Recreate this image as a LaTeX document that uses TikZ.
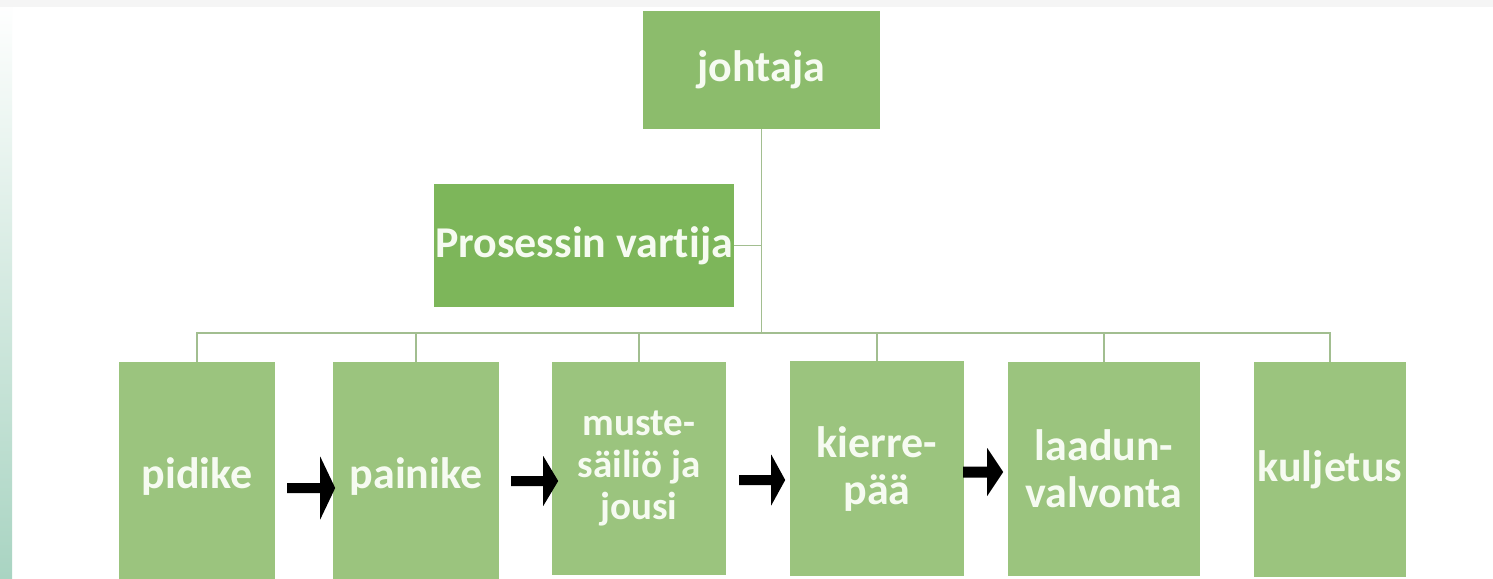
\documentclass[tikz,border=0pt]{standalone}
\usepackage{fontspec}
\setmainfont{Carlito}[Ligatures={NoCommon}]
\usetikzlibrary{calc}
\definecolor{bossgreen}{HTML}{8CBC6C}
\definecolor{asstgreen}{HTML}{7DB65A}
\definecolor{leafgreen}{HTML}{9BC47E}
\definecolor{treeline}{HTML}{A2BE90}
\definecolor{labelwhite}{HTML}{F6FBF1}
\definecolor{edgeteal}{HTML}{A9D4C2}
\tikzset{
  box/.style={rectangle, inner sep=0pt, align=center, text=labelwhite,
    font=\bfseries\fontsize{44}{47}\selectfont},
  leaf/.style={box, fill=leafgreen, anchor=north},
  tree/.style={draw=treeline, line width=1.6pt},
  fatarrow/.style={fill=black}
}
% \fatarrowpath{start}{shaft length}{head length}{half shaft}{half head}
\newcommand{\fatarrowpath}[5]{%
  \fill[fatarrow] (#1) ++(0,-#4) -- ++(#2,0) -- ++(0,-#5+#4) -- ++(#3,#5)
    -- ++(-#3,#5) -- ++(0,-#5+#4) -- ++(-#2,0) -- cycle;}
\begin{document}
\begin{tikzpicture}[x=1pt,y=-1pt]
\useasboundingbox (0,0) rectangle (1493,578);
\fill[white] (0,0) rectangle (1493,578);
\clip (0,0) rectangle (1493,578);
% faint slide edges
\shade[top color=white, bottom color=edgeteal] (0,0) rectangle (12,578);
\fill[black!4] (0,0) rectangle (1493,7);

% nodes
\node[box, fill=bossgreen, minimum width=237pt, minimum height=118pt] (joh) at (761.5,70) {johtaja};
\node[box, fill=asstgreen, minimum width=300pt, minimum height=123pt] (pro) at (584,245.5) {Prosessin vartija};

\node[leaf, minimum width=156pt, minimum height=228pt] (pid) at (197,362) {\raisebox{-12pt}{pidike}};
\node[leaf, minimum width=166pt, minimum height=228pt] (pai) at (416,362) {\raisebox{-12pt}{painike}};
\node[leaf, minimum width=174pt, minimum height=213pt, font=\bfseries\fontsize{39}{42}\selectfont] (mus) at (639,362) {muste-\\säiliö ja\\jousi};
\node[leaf, minimum width=174pt, minimum height=215pt] (kie) at (877,361) {kierre-\\pää};
\node[leaf, minimum width=192pt, minimum height=214pt] (laa) at (1104,362) {laadun-\\valvonta};
\node[leaf, minimum width=152pt, minimum height=215pt] (kul) at (1330,362) {kuljetus};

% tree connectors
\coordinate (bus) at (761.5,333);
\draw[tree] (joh.south) -- (bus);
\draw[tree] (pro.east) -- (pro.east -| bus);
\draw[tree] (pid.north) -- (pid.north |- bus) -- (kul.north |- bus) -- (kul.north);
\draw[tree] (pai.north) -- (pai.north |- bus);
\draw[tree] (mus.north) -- (mus.north |- bus);
\draw[tree] (kie.north) -- (kie.north |- bus);
\draw[tree] (laa.north) -- (laa.north |- bus);

% process arrows (from box to box)
\coordinate (a1) at ($(pid.north east)+(12,126)$);
\coordinate (a2) at ($(pai.north east)+(12,119)$);
\coordinate (a3) at ($(mus.north east)+(13,118)$);
\coordinate (a4) at ($(kie.north east)+(-1,111)$);
\fatarrowpath{a1}{33}{15}{5}{31.5}
\fatarrowpath{a2}{32}{15}{5}{25}
\fatarrowpath{a3}{32}{14}{5}{25.5}
\fatarrowpath{a4}{24}{16}{5.5}{24}
\end{tikzpicture}
\end{document}
